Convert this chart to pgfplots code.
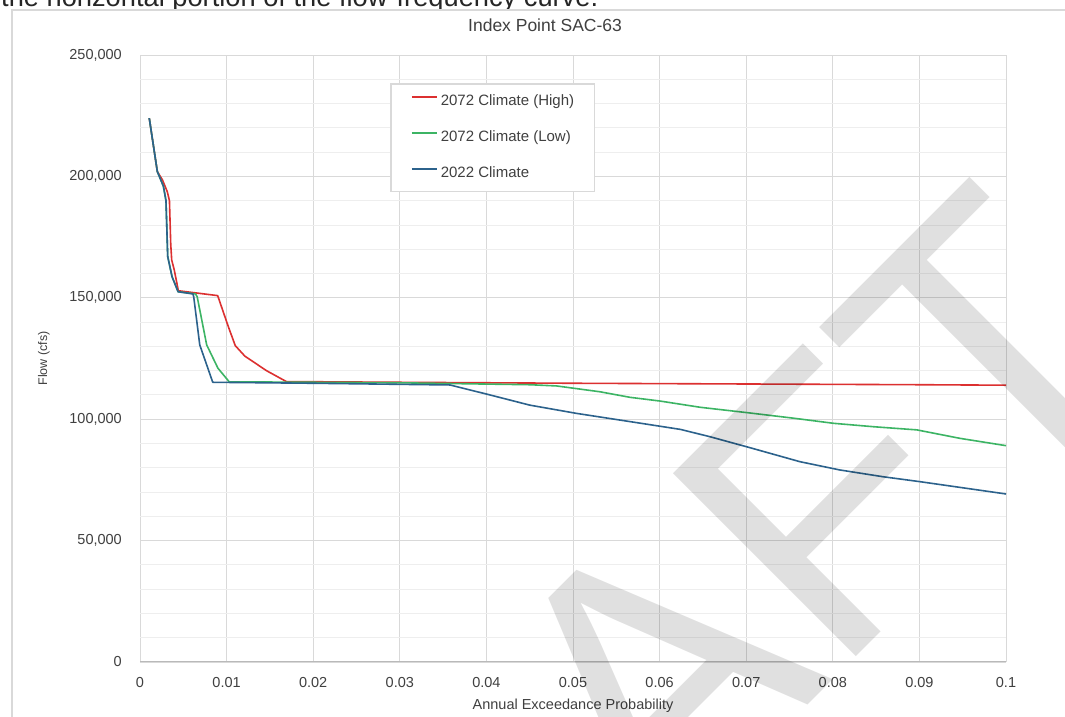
\documentclass[border=0pt]{standalone}
\usepackage{fontspec}
\setmainfont{Liberation Sans}
\usepackage{graphicx}
\usepackage{pgfplots}
\pgfplotsset{compat=1.18}
\definecolor{cHigh}{RGB}{220,48,48}
\definecolor{cLow}{RGB}{60,180,100}
\definecolor{cBase}{RGB}{44,98,140}
\definecolor{gridmaj}{RGB}{217,217,217}
\definecolor{gridmin}{RGB}{238,238,238}
\definecolor{framec}{RGB}{217,217,217}
\definecolor{txt}{RGB}{64,64,64}
\begin{document}
\begin{tikzpicture}[x=1pt,y=1pt]
\useasboundingbox (0,0) rectangle (1065,717);
\clip (0,0) rectangle (1065,717);
\fill[white] (0,0) rectangle (1065,717);
\node[anchor=base west, inner sep=0pt, text=black!85] at (1,710) {\resizebox{597pt}{!}{\fontsize{27}{30}\selectfont the horizontal portion of the flow-frequency curve.}};
\fill[white] (12,0) rectangle (1070,707);
\draw[framec, line width=1.2pt] (12,-5) -- (12,707) -- (1075,707);
\begin{axis}[
  at={(140pt,55pt)}, anchor=south west,
  scale only axis, width=866pt, height=607pt,
  xmin=0, xmax=0.1, ymin=0, ymax=250000,
  scaled y ticks=false, scaled x ticks=false,
  xtick={0,0.01,0.02,0.03,0.04,0.05,0.06,0.07,0.08,0.09,0.1},
  xticklabels={0,0.01,0.02,0.03,0.04,0.05,0.06,0.07,0.08,0.09,0.1},
  ytick={0,50000,100000,150000,200000,250000},
  yticklabels={0,{50,000},{100,000},{150,000},{200,000},{250,000}},
  minor ytick={10000,20000,30000,40000,60000,70000,80000,90000,110000,120000,130000,140000,160000,170000,180000,190000,210000,220000,230000,240000},
  xmajorgrids, ymajorgrids, yminorgrids,
  major grid style={color=gridmaj, line width=0.9pt},
  minor grid style={color=gridmin, line width=0.9pt},
  axis line style={draw=none},
  major tick length=0pt, minor tick length=0pt,
  tick label style={font=\fontsize{14.5}{17}\selectfont, text=txt},
  xticklabel style={inner sep=0pt, anchor=north, yshift=-15.5pt},
  yticklabel style={inner sep=0pt, anchor=east, xshift=-18pt},
  title={Index Point SAC-63},
  title style={at={(axis description cs:0.4677,1.0395)}, anchor=center, font=\fontsize{17.5}{20}\selectfont, text=txt},
  xlabel={Annual Exceedance Probability},
  xlabel style={at={(axis description cs:0.5,-0.0725)}, anchor=center, font=\fontsize{14.5}{17}\selectfont, text=txt},
  ylabel={Flow (cfs)},
  ylabel style={at={(axis description cs:-0.1109,0.5)}, anchor=center, rotate=0, font=\fontsize{12.5}{15}\selectfont, text=txt},
  legend style={at={(axis description cs:0.2898,0.9522)}, anchor=north west, fill=white, name=lgd,
    font=\fontsize{15}{18}\selectfont, inner xsep=20pt, inner ysep=10pt, row sep=21pt,
    nodes={inner sep=0pt, text height=11pt, text depth=4pt},
    /tikz/every odd column/.style={column sep=3pt}},
  legend cell align=left,
  legend image code/.code={\draw[#1, line width=1.6pt] (0pt,4.5pt) -- (25pt,4.5pt);},
  every axis plot/.append style={line width=1.6pt, line join=round},
  clip=true,
]
\draw[gray!55, line width=1pt] (axis cs:0,0) -- (axis cs:0.1,0);
\addplot[color=cHigh] coordinates {
(0.00107,224000) (0.002,202000) (0.0026,198500) (0.00315,193700) (0.0034,190000)
(0.00355,172000) (0.00366,165600) (0.00396,161400) (0.00443,152900) (0.00897,150900)
(0.0102,138100) (0.011,130300) (0.0121,126000) (0.0146,120000) (0.0169,115500)
(0.03,115200) (0.05,114800) (0.07,114500) (0.09,114200) (0.1,114000)};
\addlegendentry{\textcolor{txt}{2072 Climate (High)}}
\addplot[color=cLow] coordinates {
(0.00107,224000) (0.002,202000) (0.0027,196000) (0.0030,190000) (0.0032,167000)
(0.0037,158700) (0.0044,152500) (0.0064,151600) (0.0066,150500) (0.0077,130600)
(0.0090,121000) (0.0103,115400) (0.03,115000) (0.045,114200) (0.0481,113700)
(0.0531,111300) (0.0566,109000) (0.06,107500) (0.0647,104900) (0.0701,102700)
(0.0755,100400) (0.0801,98300) (0.0847,96900) (0.0897,95600) (0.0947,92100) (0.1,89100)};
\addlegendentry{\textcolor{txt}{2072 Climate (Low)}}
\addplot[color=cBase] coordinates {
(0.00107,224000) (0.002,202000) (0.0027,196000) (0.0030,190000) (0.0032,167000)
(0.0037,158700) (0.0044,152500) (0.0061,151600) (0.0062,150500) (0.0069,130600)
(0.0084,115200) (0.02,114800) (0.0358,114100) (0.0404,110000) (0.045,105800)
(0.0504,102400) (0.0566,99000) (0.0624,95800) (0.0658,92800) (0.0704,88300)
(0.0762,82500) (0.0808,79100) (0.0858,76300) (0.09,74300) (0.0955,71500) (0.1,69200)};
\addlegendentry{\textcolor{txt}{2022 Climate}}
\end{axis}
\draw[framec, line width=1.5pt] (lgd.south west) rectangle (lgd.north east);
\node[anchor=base, rotate=45, inner sep=0pt, text=black, opacity=0.12, font=\fontsize{376}{376}\selectfont] at (716,-80) {DRAFT};
\end{tikzpicture}
\end{document}
